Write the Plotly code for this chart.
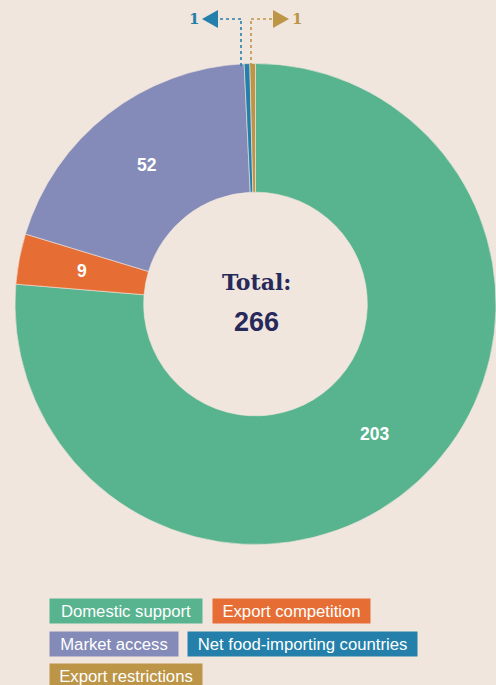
import math
import plotly.graph_objects as go

# ---- data ----
categories = ["Domestic support", "Export competition", "Market access",
              "Net food-importing countries", "Export restrictions"]
values = [203, 9, 52, 1, 1]
colors = ["#58B38F", "#E66E35", "#858BB8", "#2480AA", "#BC9547"]
inside_labels = ["203", "9", "52", "", ""]
total = sum(values)

W, H = 496, 685
BG = "#F0E6DE"
NAVY = "#27295A"

# pie geometry (pixels)
CX, CY = 255.5, 304
R_OUT = 240.5
HOLE = 0.465


def px(x):
    return min(1, max(0, x / W))


def py(y):
    return min(1, max(0, 1 - y / H))


fig = go.Figure(go.Pie(
    labels=categories,
    values=values,
    textinfo="none",
    marker=dict(colors=colors, line=dict(color=BG, width=0.6)),
    hole=HOLE,
    sort=False,
    direction="clockwise",
    rotation=0,
    domain=dict(x=[px(CX - R_OUT), px(CX + R_OUT)], y=[py(CY + R_OUT), py(CY - R_OUT)]),
    showlegend=False,
    hoverinfo="label+value",
))

annotations = []
shapes = []

# value labels at the middle of the ring, angle derived from the data
r_mid = R_OUT * (1 + HOLE) / 2
cum = 0
for v, lab in zip(values, inside_labels):
    mid = (cum + v / 2) / total * 2 * math.pi
    cum += v
    if not lab:
        continue
    x = CX + r_mid * math.sin(mid)
    y = CY - r_mid * math.cos(mid)
    annotations.append(dict(text=lab, x=px(x), y=py(y), xref="paper", yref="paper",
                            showarrow=False, xanchor="center", yanchor="middle",
                            font=dict(family="Liberation Sans, Arial", size=17.5,
                                      color="white", weight="bold")))

# centre total
annotations.append(dict(text="Total:", x=px(256), y=py(282), xref="paper", yref="paper",
                        showarrow=False, xanchor="center", yanchor="middle",
                        font=dict(family="DejaVu Serif", size=22, color=NAVY, weight="bold")))
annotations.append(dict(text=str(total), x=px(256), y=py(322), xref="paper", yref="paper",
                        showarrow=False, xanchor="center", yanchor="middle",
                        font=dict(family="Liberation Sans, Arial", size=27, color=NAVY, weight="bold")))

# leader lines for the two tiny slices
leaders = [
    # (index, vertical x, arrow tip x, direction)
    (3, 241, 202, -1),
    (4, 251, 289, 1),
]
for idx, vx, tip, d in leaders:
    c = colors[idx]
    ly = 19
    base = tip - d * 16
    shapes.append(dict(type="line", xref="paper", yref="paper",
                       x0=px(vx), y0=py(66), x1=px(vx), y1=py(ly),
                       line=dict(color=c, width=1.6, dash="dot")))
    shapes.append(dict(type="line", xref="paper", yref="paper",
                       x0=px(vx), y0=py(ly), x1=px(base), y1=py(ly),
                       line=dict(color=c, width=1.6, dash="dot")))
    path = f"M {px(base)} {py(ly - 9)} L {px(tip)} {py(ly)} L {px(base)} {py(ly + 9)} Z"
    shapes.append(dict(type="path", xref="paper", yref="paper", path=path,
                       fillcolor=c, line=dict(width=0)))
    annotations.append(dict(text=str(values[idx]), xref="paper", yref="paper",
                            x=px(tip + d * 8), y=py(ly), showarrow=False,
                            xanchor="center", yanchor="middle",
                            font=dict(family="DejaVu Serif", size=15, color=c, weight="bold")))

# legend boxes (left x, top y, width)
legend_boxes = [(49, 598, 152), (212, 598, 157), (49, 631, 128), (187, 631, 229), (49, 663, 152)]
for (lx, ty, bw), name, c in zip(legend_boxes, categories, colors):
    annotations.append(dict(text=name, xref="paper", yref="paper",
                            x=px(lx), y=py(ty), xanchor="left", yanchor="top",
                            width=bw, height=24, align="center", valign="middle",
                            bgcolor=c, borderpad=0, showarrow=False,
                            font=dict(family="Liberation Sans, Arial", size=16.7, color="white")))

fig.update_layout(
    width=W, height=H,
    margin=dict(l=0, r=0, t=0, b=0),
    paper_bgcolor=BG, plot_bgcolor=BG,
    annotations=annotations,
    shapes=shapes,
)

fig.write_html("out.html",
               config={"displayModeBar": False},
               post_script="document.body.style.margin='0';document.body.style.background='" + BG + "';")
